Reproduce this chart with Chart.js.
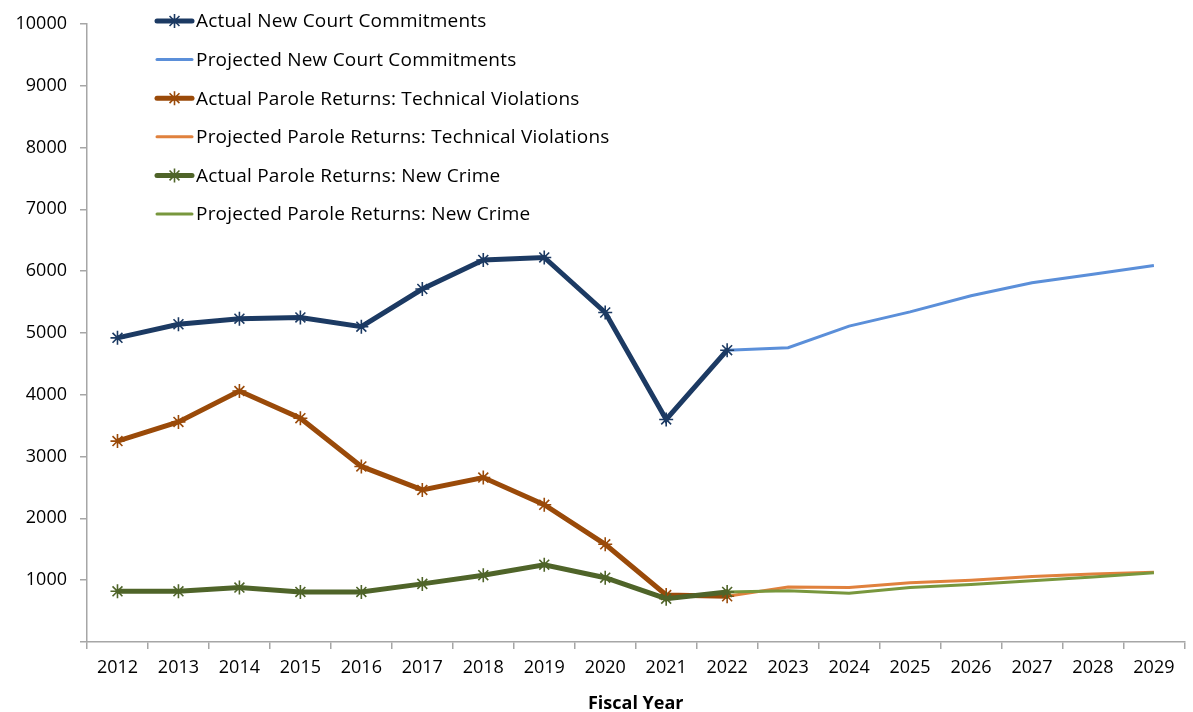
<!DOCTYPE html>
<html>
<head>
<meta charset="utf-8">
<script src="https://cdn.jsdelivr.net/npm/chart.js@4/dist/chart.umd.min.js"></script>
<style>
  html, body { margin: 0; padding: 0; background: #fff; }
  #wrap { width: 1193px; height: 712px; position: relative; }
</style>
</head>
<body>
<div id="wrap"><canvas id="myChart"></canvas></div>
<script>
// categories
var years = ['2012','2013','2014','2015','2016','2017','2018','2019','2020','2021','2022','2023','2024','2025','2026','2027','2028','2029'];

// series (actual stop at 2022, projections start at 2022)
var actualCourt    = [4920, 5140, 5230, 5250, 5100, 5710, 6180, 6220, 5330, 3600, 4720, null, null, null, null, null, null, null];
var projCourt      = [null, null, null, null, null, null, null, null, null, null, 4720, 4760, 5110, 5340, 5600, 5810, 5950, 6090];
var actualTech     = [3250, 3560, 4060, 3620, 2840, 2460, 2660, 2220, 1580, 760, 740, null, null, null, null, null, null, null];
var projTech       = [null, null, null, null, null, null, null, null, null, null, 740, 890, 880, 960, 1000, 1060, 1100, 1130];
var actualCrime    = [820, 820, 880, 810, 810, 940, 1080, 1250, 1040, 700, 810, null, null, null, null, null, null, null];
var projCrime      = [null, null, null, null, null, null, null, null, null, null, 810, 830, 790, 880, 930, 990, 1050, 1120];

var yTicks = [0, 1000, 2000, 3000, 4000, 5000, 6000, 7000, 8000, 9000, 10000];

var fuente = '"Open Sans", Lato, sans-serif';

function serie(label, data, color, actual, order) {
    return {
        label: label,
        data: data,
        borderColor: color,
        backgroundColor: color,
        borderWidth: actual ? 5 : 3,
        pointStyle: actual ? 'star' : false,
        pointRadius: actual ? 7 : 0,
        pointBorderWidth: 1.6,
        pointBorderColor: color,
        pointHoverRadius: actual ? 7 : 0,
        tension: 0,
        spanGaps: false,
        order: order,
        esActual: actual
    };
}

// leyenda dibujada dentro del area del grafico
var leyenda = {
    id: 'leyenda',
    afterDraw: function (chart) {
        var ctx = chart.ctx;
        ctx.save();
        ctx.font = '19px ' + fuente;
        ctx.letterSpacing = '0.2px';
        ctx.textBaseline = 'middle';
        ctx.textAlign = 'left';
        chart.data.datasets.forEach(function (ds, i) {
            var y = 21 + i * 38.6;
            ctx.strokeStyle = ds.borderColor;
            ctx.lineWidth = ds.borderWidth;
            ctx.lineCap = 'round';
            ctx.beginPath();
            ctx.moveTo(157, y);
            ctx.lineTo(192, y);
            ctx.stroke();
            if (ds.esActual) {
                ctx.lineWidth = 1.6;
                ctx.lineCap = 'butt';
                Chart.helpers.drawPoint(ctx, { pointStyle: 'star', radius: 7, borderWidth: 1.6, rotation: 0 }, 174.5, y);
            }
            ctx.fillStyle = '#000';
            ctx.fillText(ds.label, 196, y + 1);
        });
        ctx.restore();
    }
};

var ctx = document.getElementById('myChart').getContext('2d');
var chart = new Chart(ctx, {
    type: 'line',
    data: {
        labels: years,
        datasets: [
            serie('Actual New Court Commitments', actualCourt, '#1c3a63', true, 4),
            serie('Projected New Court Commitments', projCourt, '#5b8fd9', false, 5),
            serie('Actual Parole Returns: Technical Violations', actualTech, '#9a4a09', true, 2),
            serie('Projected Parole Returns: Technical Violations', projTech, '#e0813d', false, 3),
            serie('Actual Parole Returns: New Crime', actualCrime, '#4f6429', true, 0),
            serie('Projected Parole Returns: New Crime', projCrime, '#78973d', false, 1)
        ]
    },
    plugins: [leyenda],
    options: {
        responsive: true,
        maintainAspectRatio: false,
        animation: false,
        layout: { padding: { top: 21, right: 0, left: 0, bottom: 0 } },
        plugins: {
            legend: { display: false },
            tooltip: { enabled: false }
        },
        scales: {
            x: {
                offset: true,
                grid: {
                    offset: true,
                    drawOnChartArea: false,
                    drawTicks: true,
                    tickLength: 7,
                    color: '#a6a6a6',
                    lineWidth: 1.5
                },
                border: { color: '#a6a6a6', width: 1.5 },
                ticks: {
                    color: '#000',
                    font: { family: fuente, size: 18 },
                    maxRotation: 0,
                    autoSkip: false,
                    padding: 8
                },
                title: {
                    display: true,
                    text: 'Fiscal Year',
                    color: '#000',
                    font: { family: fuente, size: 18, weight: 'bold' },
                    padding: { top: 4, bottom: -3 }
                },
                afterFit: function (s) { s.height = 70; }
            },
            y: {
                min: 0,
                max: 10000,
                afterBuildTicks: function (s) {
                    s.ticks = yTicks.map(function (v) { return { value: v }; });
                },
                grid: {
                    drawOnChartArea: false,
                    drawTicks: true,
                    tickLength: 7,
                    color: '#a6a6a6',
                    lineWidth: 1.5
                },
                border: { color: '#a6a6a6', width: 1.5 },
                ticks: {
                    color: '#000',
                    font: { family: fuente, size: 18 },
                    padding: 13,
                    callback: function (v) { return v === 0 ? '' : v; }
                },
                afterFit: function (s) { s.width = 87; }
            }
        }
    }
});
</script>
</body>
</html>
